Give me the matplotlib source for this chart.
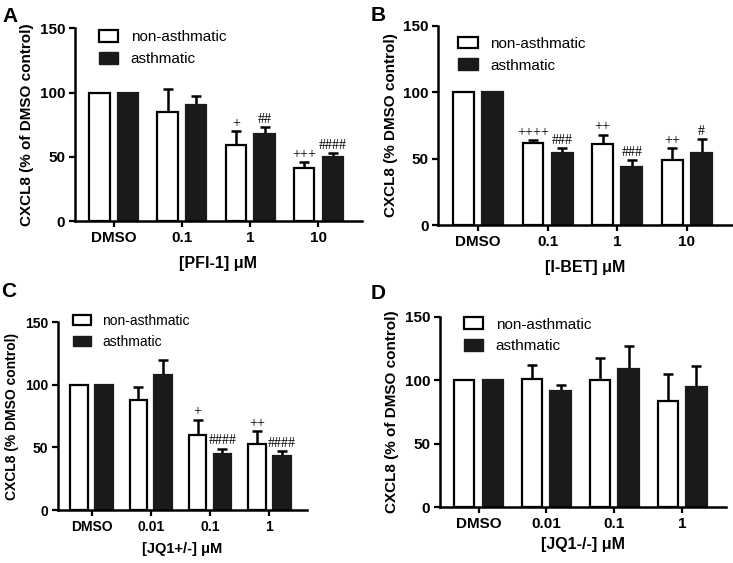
import matplotlib
matplotlib.use("Agg")
import matplotlib.pyplot as plt
from matplotlib.patches import Patch
import numpy as np

plt.rcParams['font.family'] = ['Liberation Sans', 'DejaVu Sans']

# panel A - PFI-1
a_cats = ["DMSO", "0.1", "1", "10"]
a_non = [100, 85, 59, 41]
a_non_err = [0, 18, 11, 5]
a_asth = [100, 90, 68, 50]
a_asth_err = [0, 7, 5, 3]
a_non_sig = ["", "", "+", "+++"]
a_asth_sig = ["", "", "##", "####"]

# panel B - I-BET
b_cats = ["DMSO", "0.1", "1", "10"]
b_non = [100, 62, 61, 49]
b_non_err = [0, 2, 7, 9]
b_asth = [100, 54, 44, 54]
b_asth_err = [0, 4, 5, 11]
b_non_sig = ["", "++++", "++", "++"]
b_asth_sig = ["", "###", "###", "#"]

# panel C - JQ1+/-
c_cats = ["DMSO", "0.01", "0.1", "1"]
c_non = [100, 88, 60, 53]
c_non_err = [0, 10, 12, 10]
c_asth = [100, 108, 45, 43]
c_asth_err = [0, 12, 4, 4]
c_non_sig = ["", "", "+", "++"]
c_asth_sig = ["", "", "####", "####"]

# panel D - JQ1-/-
d_cats = ["DMSO", "0.01", "0.1", "1"]
d_non = [100, 101, 100, 84]
d_non_err = [0, 11, 18, 21]
d_asth = [100, 92, 109, 95]
d_asth_err = [0, 4, 18, 16]
d_non_sig = ["", "", "", ""]
d_asth_sig = ["", "", "", ""]


def panel(ax, cats, non, non_err, asth, asth_err, non_sig, asth_sig,
          ylabel, xlabel, leg_pos, fs=11, xpad=8):
    x = np.arange(len(cats))
    w = 0.3
    off = 0.21
    ax.bar(x - off, non, w, color="white", edgecolor="black", linewidth=1.6, zorder=2)
    ax.bar(x + off, asth, w, color="#1a1a1a", edgecolor="#1a1a1a", linewidth=1.6, zorder=2)
    for xs, vals, errs in [(x - off, non, non_err), (x + off, asth, asth_err)]:
        for xi, v, e in zip(xs, vals, errs):
            if e > 0:
                ax.errorbar(xi, v, yerr=[[0], [e]], color="black", capsize=3.5,
                            elinewidth=1.8, capthick=1.8, zorder=1)
    for xs, vals, errs, sig in [(x - off, non, non_err, non_sig),
                                (x + off, asth, asth_err, asth_sig)]:
        for xi, v, e, s in zip(xs, vals, errs, sig):
            if s:
                ax.text(xi, v + e + 1.0, s, ha="center", va="bottom",
                        family=["Liberation Serif", "DejaVu Serif"], fontsize=10)
    ax.set_xlim(-0.57, len(cats) - 0.36)
    ax.set_ylim(0, 150)
    ax.set_yticks([0, 50, 100, 150])
    ax.set_xticks(x)
    ax.set_xticklabels(cats, fontweight="bold")
    for lab in ax.get_yticklabels():
        lab.set_fontweight("bold")
    ax.tick_params(labelsize=fs, width=1.6, length=4, pad=3)
    ax.set_ylabel(ylabel, fontsize=fs, fontweight="bold")
    ax.set_xlabel(xlabel, fontsize=fs + 0.5, fontweight="bold", labelpad=xpad)
    ax.spines["top"].set_visible(False)
    ax.spines["right"].set_visible(False)
    ax.spines["left"].set_linewidth(1.8)
    ax.spines["bottom"].set_linewidth(1.8)
    handles = [Patch(facecolor="white", edgecolor="black", linewidth=1.6),
               Patch(facecolor="#1a1a1a", edgecolor="#1a1a1a")]
    ax.legend(handles, ["non-asthmatic", "asthmatic"], loc="upper left",
              bbox_to_anchor=leg_pos, frameon=False, fontsize=fs,
              handlelength=1.3, handleheight=0.8, labelspacing=0.5, handletextpad=0.8)


fig = plt.figure(figsize=(7.33, 5.63), dpi=100)
axA = fig.add_axes([0.102, 0.607, 0.392, 0.343])
axB = fig.add_axes([0.598, 0.600, 0.400, 0.354])
axC = fig.add_axes([0.079, 0.094, 0.340, 0.334])
axD = fig.add_axes([0.600, 0.099, 0.390, 0.338])

panel(axA, a_cats, a_non, a_non_err, a_asth, a_asth_err, a_non_sig, a_asth_sig,
      "CXCL8 (% of DMSO control)", "[PFI-1] \u03bcM", (0.035, 1.06))
panel(axB, b_cats, b_non, b_non_err, b_asth, b_asth_err, b_non_sig, b_asth_sig,
      "CXCL8 (% DMSO control)", "[I-BET] \u03bcM", (0.02, 1.015))
panel(axC, c_cats, c_non, c_non_err, c_asth, c_asth_err, c_non_sig, c_asth_sig,
      "CXCL8 (% DMSO control)", "[JQ1+/-] \u03bcM", (0.01, 1.11), fs=10, xpad=6)
panel(axD, d_cats, d_non, d_non_err, d_asth, d_asth_err, d_non_sig, d_asth_sig,
      "CXCL8 (% of DMSO control)", "[JQ1-/-] \u03bcM", (0.035, 1.07), xpad=4)

for lbl, xx, yy in [("A", 0.004, 0.988), ("B", 0.505, 0.99), ("C", 0.002, 0.499), ("D", 0.505, 0.496)]:
    fig.text(xx, yy, lbl, fontsize=15, fontweight="bold", va="top")

fig.savefig("out.png", dpi=100)
